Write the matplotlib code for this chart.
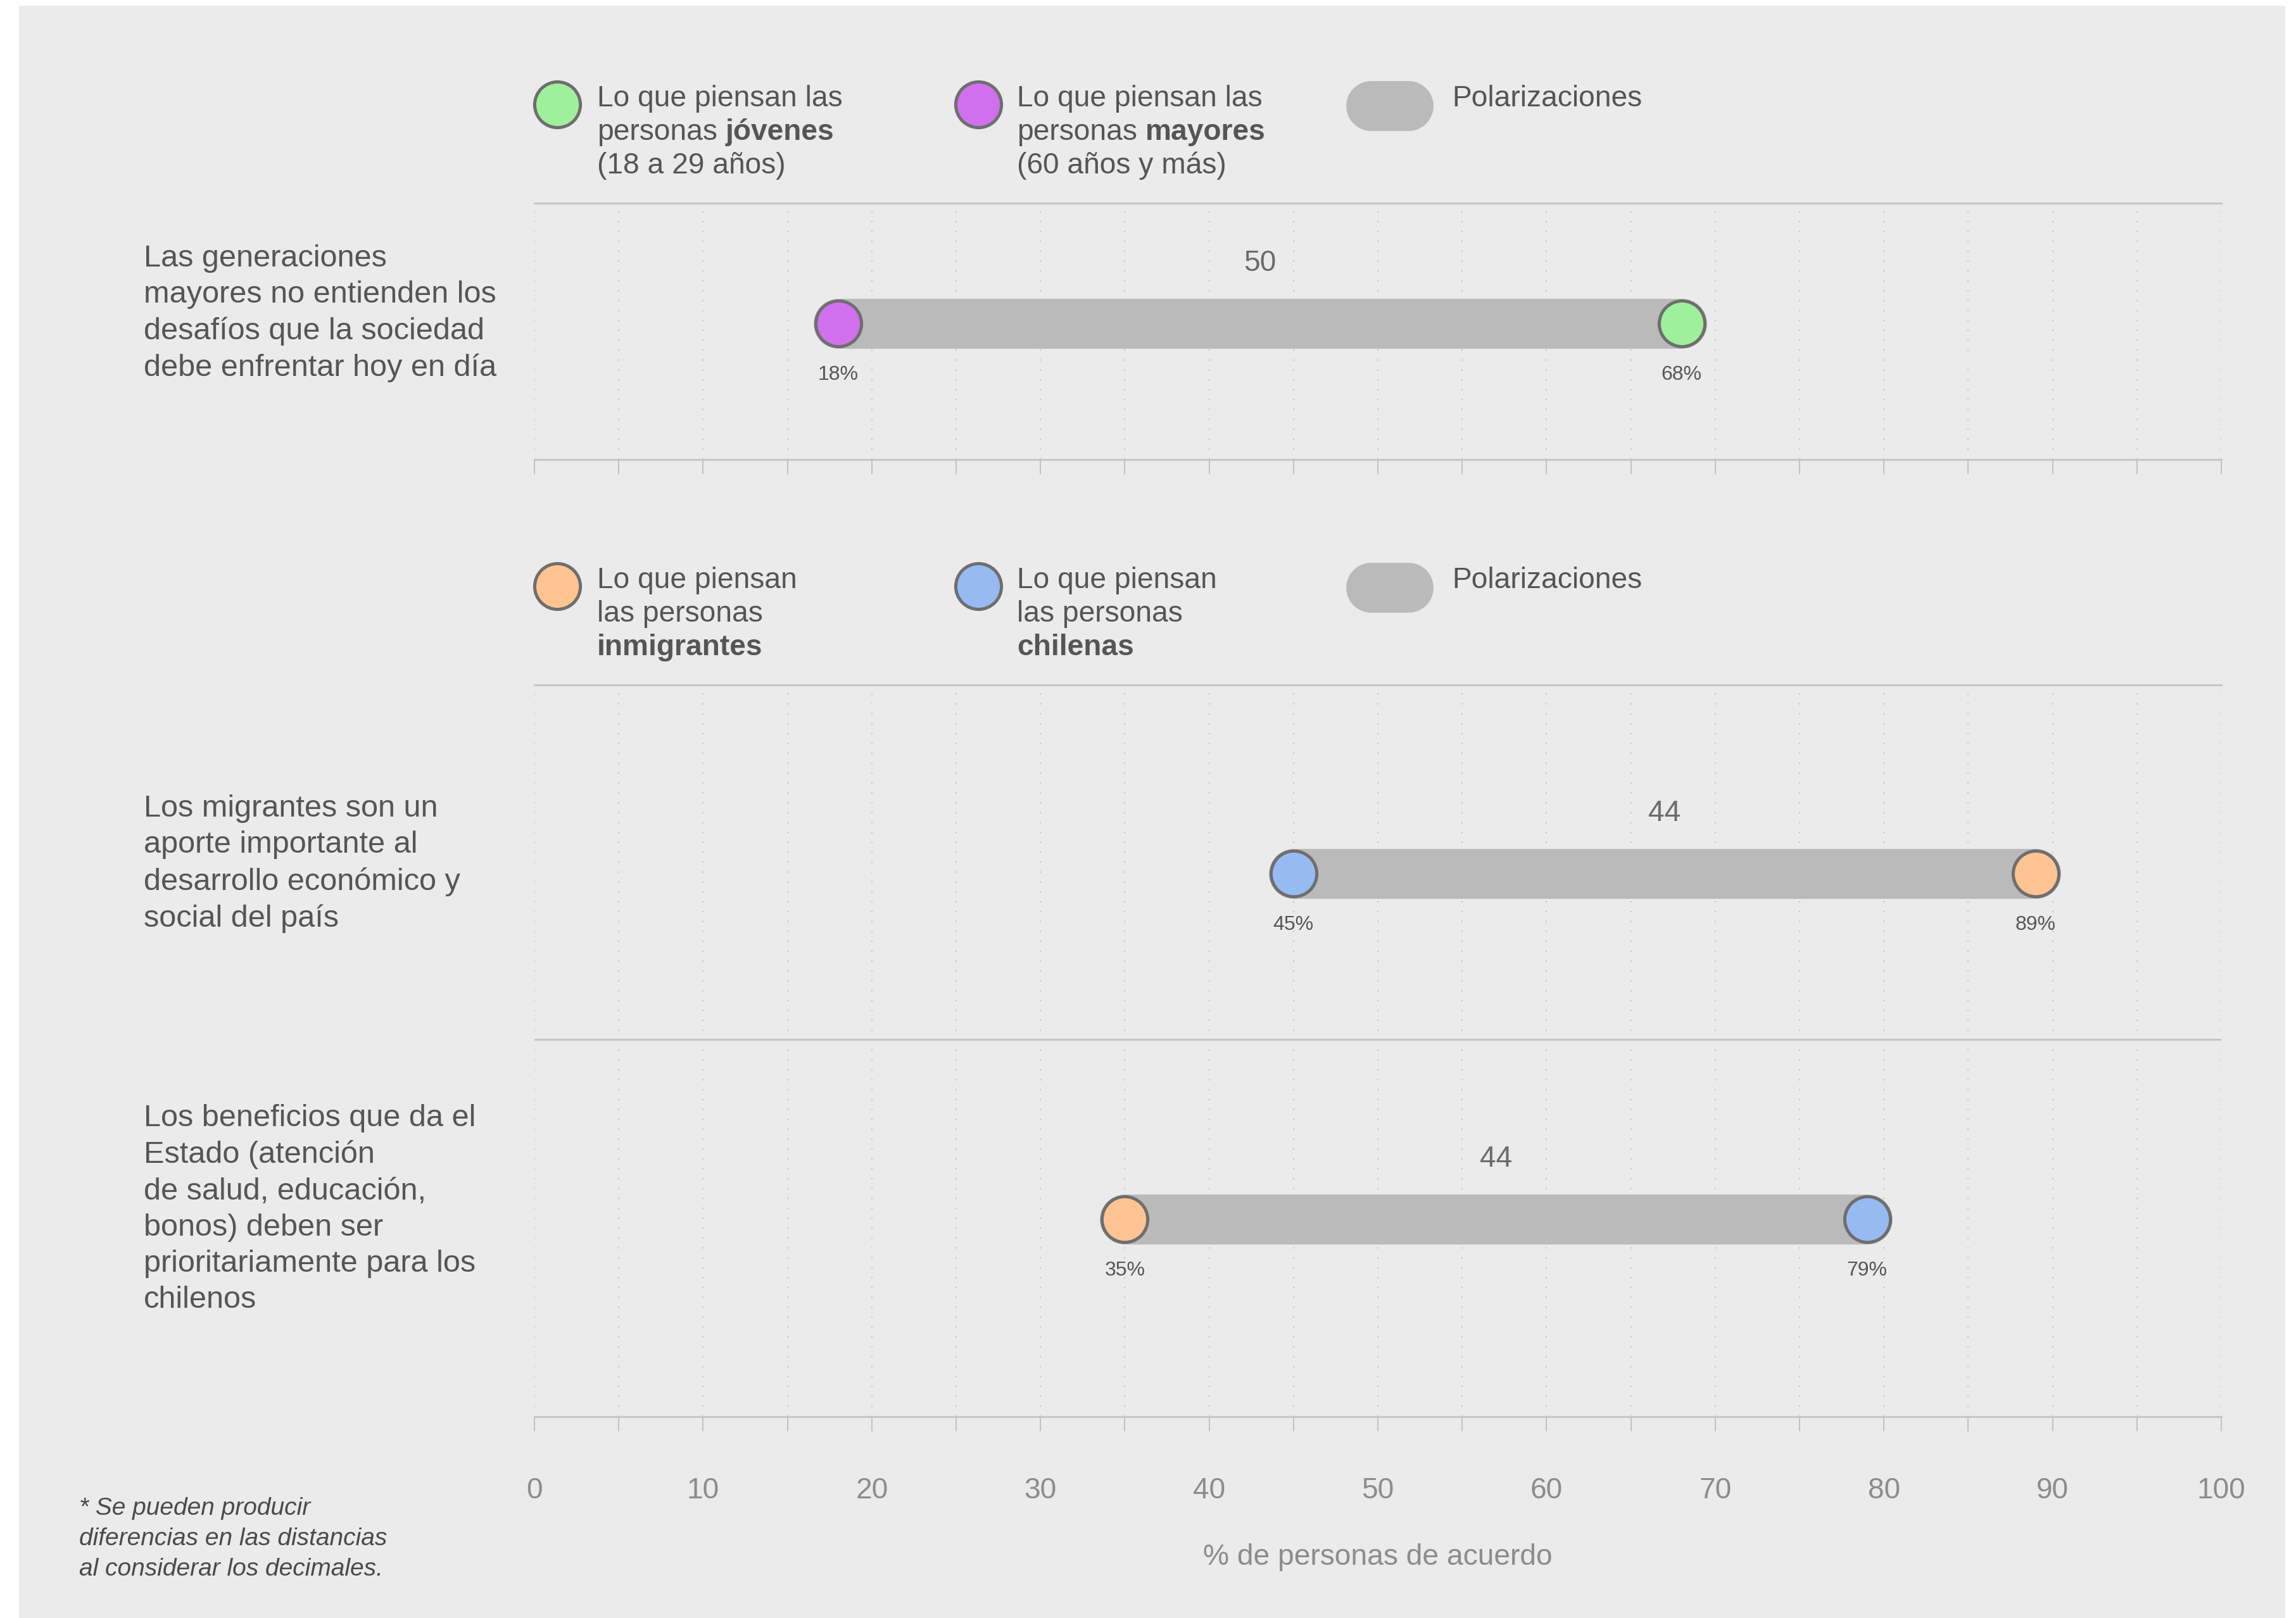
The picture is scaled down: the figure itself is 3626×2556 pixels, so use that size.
import numpy as np
import matplotlib
matplotlib.use("Agg")
import matplotlib.pyplot as plt
from matplotlib import transforms
from matplotlib.patches import Rectangle

plt.rcParams["font.family"] = ["Liberation Sans", "DejaVu Sans"]

# ==================================================
# Data
# ==================================================
statements = [
    "Las generaciones\nmayores no entienden los\ndesafíos que la sociedad\ndebe enfrentar hoy en día",
    "Los migrantes son un\naporte importante al\ndesarrollo económico y\nsocial del país",
    "Los beneficios que da el\nEstado (atención\nde salud, educación,\nbonos) deben ser\nprioritariamente para los\nchilenos",
]
row_panel = [0, 1, 1]

# group A = jóvenes (panel 0) / inmigrantes (panel 1)
# group B = mayores (panel 0) / chilenas (panel 1)
group_a_values = [68, 89, 35]
group_b_values = [18, 45, 79]
polarization = [50, 44, 44]

group_a_colors = ["#9ef09a", "#ffc491"]
group_b_colors = ["#d070ec", "#96bbf0"]

legend_a_lines = [
    [[("Lo que piensan las", False)], [("personas", False), ("jóvenes", True)], [("(18 a 29 años)", False)]],
    [[("Lo que piensan", False)], [("las personas", False)], [("inmigrantes", True)]],
]
legend_b_lines = [
    [[("Lo que piensan las", False)], [("personas", False), ("mayores", True)], [("(60 años y más)", False)]],
    [[("Lo que piensan", False)], [("las personas", False)], [("chilenas", True)]],
]
legend_bar_label = "Polarizaciones"

x_ticks = list(range(0, 101, 10))
x_minor = list(range(0, 101, 5))
x_label = "% de personas de acuerdo"
footnote = "* Se pueden producir\ndiferencias en las distancias\nal considerar los decimales."

# ==================================================
# Style
# ==================================================
DPI = 200
W, H = 3626, 2556
BG = "#ebebeb"
TEXT = "#555555"
LINE = "#c6c6c6"
BAR = "#bababa"
EDGE = "#6e6e6e"
BAR_LW = 28.4
MARKER = 26
FS = 16.6


def px(v):
    return v * 72 / DPI


fig = plt.figure(figsize=(W / DPI, H / DPI), dpi=DPI, facecolor="white")
fig.patches.append(Rectangle((30 / W, 0), 3579 / W, 1 - 9 / H, transform=fig.transFigure,
                             facecolor=BG, edgecolor="none", zorder=-10))
renderer = fig.canvas.get_renderer()

left, right = 844 / W, 3508 / W
ax1 = fig.add_axes([left, 1 - 726 / H, right - left, (726 - 321) / H])
ax2 = fig.add_axes([left, 1 - 2238 / H, right - left, (2238 - 1082) / H])
axes = [ax1, ax2]
ax1.set_ylim(1.066, 0)
ax2.set_ylim(2.072, -0.047)

for i, ax in enumerate(axes):
    ax.set_facecolor("none")
    ax.set_xlim(0, 100)
    for s in ["left", "right"]:
        ax.spines[s].set_visible(False)
    for s in ["top", "bottom"]:
        ax.spines[s].set_color(LINE)
        ax.spines[s].set_linewidth(1.1)
    ax.set_yticks([])
    ax.set_xticks(x_ticks)
    ax.set_xticks(x_minor, minor=True)
    ax.tick_params(axis="x", which="both", direction="out", length=px(23), width=0.7,
                   color="#c0c0c0", pad=26, labelsize=FS, labelcolor="#8c8c8c")
    for x in x_minor:
        ax.axvline(x, color="#c4c4c4", lw=0.75, linestyle=(0, (1, 6.5)), zorder=0)
    if i == 0:
        ax.tick_params(axis="x", labelbottom=False)

# separator between the two statements of the lower panel
ax2.axhline(0.98, color=LINE, lw=1.1, zorder=1)
ax2.annotate(x_label, xy=(0.5, 0), xycoords="axes fraction", xytext=(0, -px(222)),
             textcoords="offset points", ha="center", va="center", fontsize=FS, color="#8c8c8c")

# ==================================================
# Legends
# ==================================================
space_px = 0.278 * FS * DPI / 72
line_offsets = [153, 100, 47]


def draw_legend_text(ax, x, lines):
    base = transforms.blended_transform_factory(ax.transData, ax.transAxes)
    for parts, dy in zip(lines, line_offsets):
        dx = 0
        for txt, bold in parts:
            tr = transforms.offset_copy(base, fig=fig, x=dx, y=dy, units="dots")
            t = ax.text(x, 1, txt, transform=tr, ha="left", va="baseline", fontsize=FS,
                        color=TEXT, fontweight="bold" if bold else "normal", clip_on=False)
            dx += t.get_window_extent(renderer).width + space_px


for p, ax in enumerate(axes):
    base = transforms.blended_transform_factory(ax.transData, ax.transAxes)
    mk_tr = transforms.offset_copy(base, fig=fig, x=0, y=156, units="dots")
    ax.plot([1.35], [1], "o", ms=MARKER, mfc=group_a_colors[p], mec=EDGE, mew=1.8,
            transform=mk_tr, clip_on=False)
    ax.plot([26.3], [1], "o", ms=MARKER, mfc=group_b_colors[p], mec=EDGE, mew=1.8,
            transform=mk_tr, clip_on=False)
    ax.plot([49.6, 51.8], [1, 1], color=BAR, lw=BAR_LW, solid_capstyle="round",
            transform=transforms.offset_copy(base, fig=fig, x=0, y=154, units="dots"), clip_on=False)
    draw_legend_text(ax, 3.7, legend_a_lines[p])
    draw_legend_text(ax, 28.6, legend_b_lines[p])
    draw_legend_text(ax, 54.4, [[(legend_bar_label, False)]])

# ==================================================
# Dumbbells
# ==================================================
local_idx = [0, 0, 0]
for i in range(len(statements)):
    p = row_panel[i]
    ax = axes[p]
    y = local_idx[p] + 0.5
    local_idx[p] += 1
    a, b = group_a_values[i], group_b_values[i]
    ax.plot([min(a, b), max(a, b)], [y, y], color=BAR, lw=BAR_LW, solid_capstyle="round",
            zorder=2, clip_on=False)
    ax.plot([a], [y], "o", ms=MARKER, mfc=group_a_colors[p], mec=EDGE, mew=1.8, zorder=3, clip_on=False)
    ax.plot([b], [y], "o", ms=MARKER, mfc=group_b_colors[p], mec=EDGE, mew=1.8, zorder=3, clip_on=False)
    for v in (a, b):
        ax.annotate(f"{v}%", (v, y), xytext=(0, -px(81)), textcoords="offset points",
                    ha="center", va="center", fontsize=11.5, color=TEXT)
    ax.annotate(f"{polarization[i]}", ((a + b) / 2, y), xytext=(0, px(95)), textcoords="offset points",
                ha="center", va="center", fontsize=FS, color="#6b6b6b")
    lbl_tr = transforms.blended_transform_factory(fig.transFigure, ax.transData)
    lbl_tr = transforms.offset_copy(lbl_tr, fig=fig, x=0, y=16, units="dots")
    ax.text(227 / W, y, statements[i], transform=lbl_tr, ha="left", va="center",
            fontsize=17.5, color=TEXT, linespacing=1.35)

fig.text(125 / W, 1 - 2365 / H, footnote, ha="left", va="top", fontsize=14,
         style="italic", color="#4a4a4a", linespacing=1.43)

fig.savefig("out.png", dpi=DPI, facecolor="white")
